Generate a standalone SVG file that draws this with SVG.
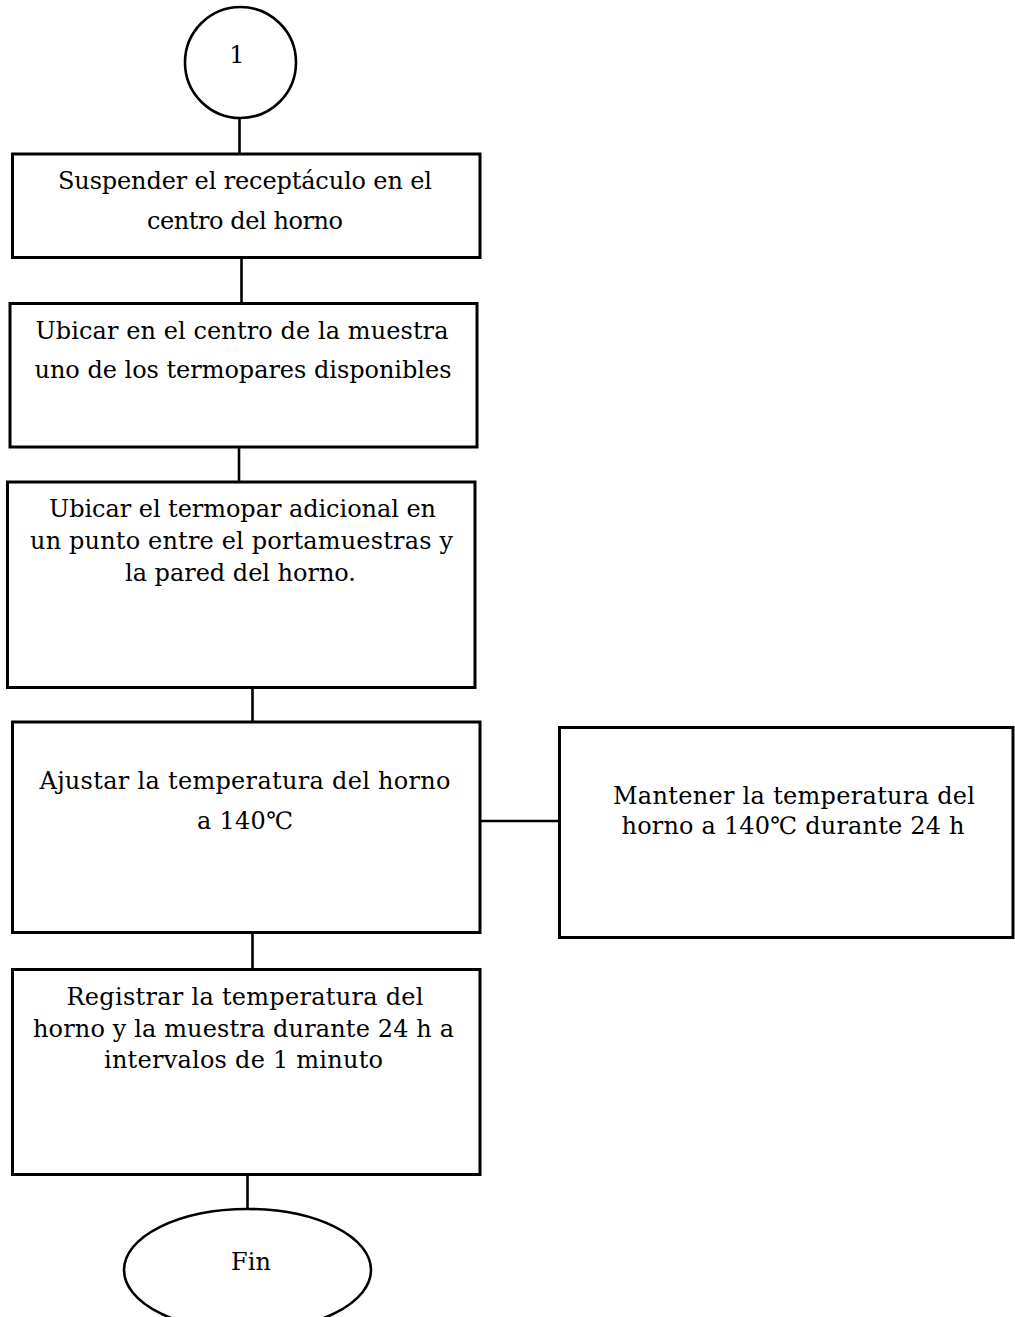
<svg xmlns="http://www.w3.org/2000/svg" width="1015" height="1317" viewBox="0 0 1015 1317">
  <style>
    .box { fill: #fff; stroke: #000; stroke-width: 3; }
    .term { fill: #fff; stroke: #000; stroke-width: 2.6; }
    .link { stroke: #000; stroke-width: 2.6; fill: none; }
    .lbl { font-family: "DejaVu Serif", "Liberation Serif", serif; font-size: 24px; fill: #000; text-anchor: middle; }
  </style>
  <rect width="1015" height="1317" fill="#fff"/>

  <!-- connectors -->
  <g id="connectors">
    <line class="link" x1="239.5" y1="119" x2="239.5" y2="154"/>
    <line class="link" x1="241.5" y1="257" x2="241.5" y2="303"/>
    <line class="link" x1="239" y1="447" x2="239" y2="482"/>
    <line class="link" x1="252.5" y1="688" x2="252.5" y2="722"/>
    <line class="link" x1="480" y1="821" x2="559" y2="821"/>
    <line class="link" x1="252.5" y1="932" x2="252.5" y2="969"/>
    <line class="link" x1="247.5" y1="1174" x2="247.5" y2="1209"/>
  </g>

  <!-- off-page connector -->
  <g id="connector-1">
    <circle class="term" cx="240.5" cy="62.5" r="55.5"/>
    <text class="lbl" x="237" y="63">1</text>
  </g>

  <g id="step-suspender">
    <rect class="box" x="12.5" y="154" width="467.5" height="103.5"/>
    <text class="lbl" x="245" y="189" textLength="374" lengthAdjust="spacing">Suspender el receptáculo en el</text>
    <text class="lbl" x="245" y="229" textLength="196" lengthAdjust="spacing">centro del horno</text>
  </g>

  <g id="step-ubicar-centro">
    <rect class="box" x="10" y="303.5" width="467" height="143.5"/>
    <text class="lbl" x="242" y="339" textLength="413" lengthAdjust="spacing">Ubicar en el centro de la muestra</text>
    <text class="lbl" x="243" y="378" textLength="417" lengthAdjust="spacing">uno de los termopares disponibles</text>
  </g>

  <g id="step-ubicar-adicional">
    <rect class="box" x="7.5" y="482" width="467.5" height="205.5"/>
    <text class="lbl" x="242.5" y="517" textLength="387" lengthAdjust="spacing">Ubicar el termopar adicional en</text>
    <text class="lbl" x="241.5" y="549" textLength="423" lengthAdjust="spacing">un punto entre el portamuestras y</text>
    <text class="lbl" x="240.5" y="581" textLength="231" lengthAdjust="spacing">la pared del horno.</text>
  </g>

  <g id="step-ajustar">
    <rect class="box" x="12.5" y="722" width="467.5" height="210.5"/>
    <text class="lbl" x="245" y="789" textLength="411" lengthAdjust="spacing">Ajustar la temperatura del horno</text>
    <text class="lbl" x="245" y="829" textLength="96" lengthAdjust="spacing">a 140℃</text>
  </g>

  <g id="step-mantener">
    <rect class="box" x="559.5" y="727.5" width="453.5" height="210"/>
    <text class="lbl" x="794" y="804" textLength="362" lengthAdjust="spacing">Mantener la temperatura del</text>
    <text class="lbl" x="793" y="834" textLength="343" lengthAdjust="spacing">horno a 140℃ durante 24 h</text>
  </g>

  <g id="step-registrar">
    <rect class="box" x="12.5" y="969.5" width="467.5" height="205"/>
    <text class="lbl" x="245" y="1005" textLength="357" lengthAdjust="spacing">Registrar la temperatura del</text>
    <text class="lbl" x="243.5" y="1037" textLength="421" lengthAdjust="spacing">horno y la muestra durante 24 h a</text>
    <text class="lbl" x="243.5" y="1068" textLength="279" lengthAdjust="spacing">intervalos de 1 minuto</text>
  </g>

  <g id="end">
    <ellipse class="term" cx="247.5" cy="1270" rx="123.5" ry="61"/>
    <text class="lbl" x="251" y="1270">Fin</text>
  </g>
</svg>
